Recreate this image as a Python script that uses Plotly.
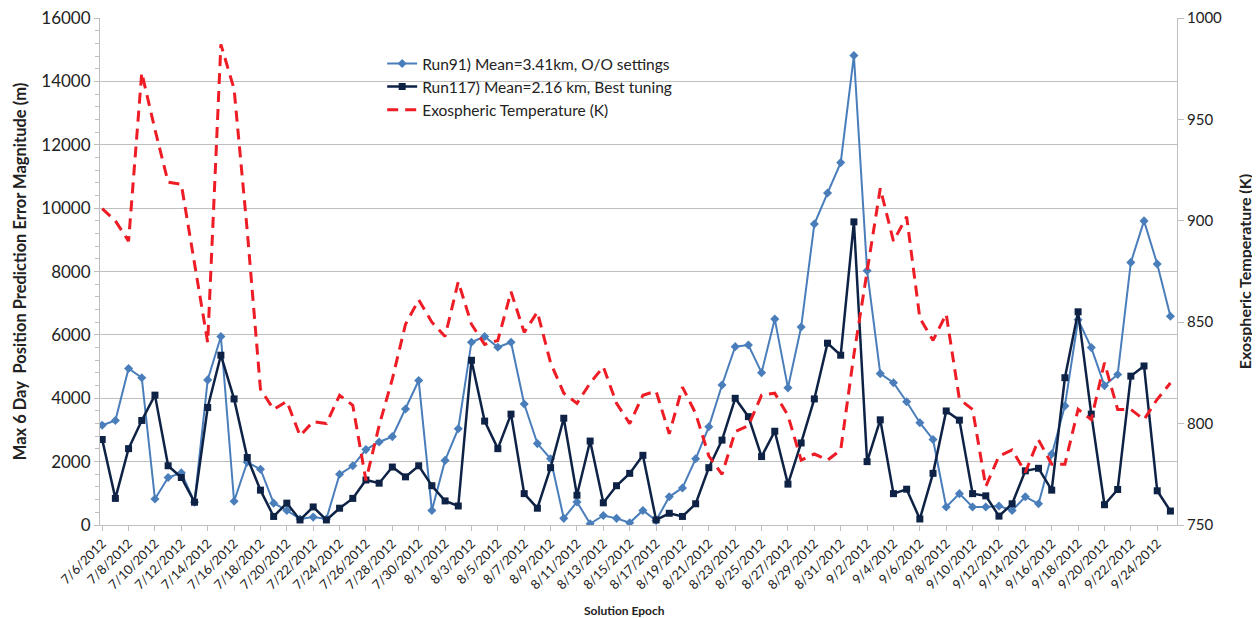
import pandas as pd
import plotly.graph_objects as go

# solution epochs, one per day
dates = pd.date_range("2012-07-06", "2012-09-25", freq="D")

run91 = [3150, 3300, 4940, 4650, 820, 1500, 1650, 720, 4580, 5950,
         750, 1980, 1760, 690, 460, 190, 250, 190, 1600, 1870,
         2380, 2620, 2790, 3660, 4560, 460, 2040, 3040, 5770, 5950,
         5610, 5770, 3820, 2570, 2090, 210, 730, 40, 300, 210,
         70, 460, 140, 890, 1170, 2090, 3100, 4420, 5630, 5680,
         4810, 6500, 4330, 6250, 9500, 10480, 11440, 14820, 8030, 4780,
         4490, 3890, 3230, 2700, 570, 990, 570, 570, 600, 460,
         890, 670, 2240, 3760, 6480, 5600, 4400, 4750, 8290, 9600,
         8240, 6590]

run117 = [2700, 840, 2410, 3300, 4100, 1870, 1500, 720, 3710, 5360,
          3980, 2130, 1100, 270, 690, 160, 570, 160, 530, 840,
          1420, 1320, 1830, 1520, 1870, 1240, 760, 600, 5200, 3280,
          2410, 3500, 990, 530, 1810, 3370, 940, 2650, 700, 1240,
          1630, 2200, 160, 370, 270, 670, 1810, 2680, 4000, 3420,
          2160, 2960, 1290, 2590, 3980, 5740, 5360, 9570, 2000, 3320,
          990, 1130, 190, 1630, 3600, 3310, 990, 920, 280, 670,
          1710, 1790, 1100, 4650, 6730, 3500, 640, 1120, 4700, 5020,
          1080, 440]

exo_temp = [906, 900, 890, 973, 945, 919, 918, 878, 840, 987,
            965, 895, 817, 807, 811, 794, 801, 800, 814, 809,
            772, 799, 822, 849, 861, 850, 843, 870, 849, 839,
            841, 865, 845, 855, 830, 815, 810, 820, 828, 810,
            800, 814, 816, 795, 818, 805, 784, 775, 796, 799,
            814, 815, 804, 782, 785, 782, 787, 834, 875, 916,
            890, 902, 852, 841, 854, 812, 807, 769, 784, 787,
            776, 792, 780, 780, 807, 802, 830, 807, 807, 802,
            812, 820]

fnt = "Lato, 'Open Sans', sans-serif"
grid_col = "#BFBFBF"
txt_col = "#222222"

fig = go.Figure()
fig.add_trace(go.Scatter(x=dates, y=run91, mode="lines+markers",
                         name="Run91) Mean=3.41km, O/O settings",
                         line=dict(color="#4A7EBB", width=2),
                         marker=dict(symbol="diamond", size=7, color="#4A7EBB")))
fig.add_trace(go.Scatter(x=dates, y=run117, mode="lines+markers",
                         name="Run117) Mean=2.16 km, Best tuning",
                         line=dict(color="#0E2245", width=2.5),
                         marker=dict(symbol="square", size=7, color="#0E2245")))
fig.add_trace(go.Scatter(x=dates, y=exo_temp, mode="lines", yaxis="y2",
                         name="Exospheric Temperature (K)",
                         line=dict(color="#EE1C25", width=3, dash="11px,7px")))

fig.update_layout(
    width=1260, height=618,
    margin=dict(l=92, r=91, t=10, b=101),
    paper_bgcolor="white", plot_bgcolor="white",
    font=dict(family=fnt, color=txt_col),
    showlegend=True,
    legend=dict(x=0.262, y=0.943, xanchor="left", yanchor="top",
                bgcolor="rgba(0,0,0,0)", font=dict(size=15.5, color=txt_col),
                tracegroupgap=0, itemwidth=30),
    # white legend box that hides the gridline behind the legend, as in the original
    shapes=[dict(type="rect", xref="paper", yref="paper", layer="between",
                 x0=0.177, x1=0.622, y0=0.84, y1=0.97,
                 fillcolor="white", line=dict(width=0))],
    xaxis=dict(
        range=[pd.Timestamp("2012-07-05 20:00"), pd.Timestamp("2012-09-25 12:00")],
        tick0="2012-07-06", dtick=2 * 86400000, tickformat="%-m/%-d/%Y",
        tickangle=-45, tickfont=dict(size=13, color=txt_col),
        ticks="outside", ticklen=5, tickcolor=grid_col,
        showline=True, linecolor=grid_col, showgrid=False, zeroline=False,
        automargin=False,
    ),
    yaxis=dict(
        range=[0, 16005], dtick=2000, tickformat="d",
        tickfont=dict(size=17, color=txt_col), ticklabeloverflow="allow",
        showgrid=True, gridcolor=grid_col, gridwidth=1,
        showline=True, linecolor=grid_col, zeroline=False,
        ticks="outside", ticklen=5, tickcolor=grid_col,
        minor=dict(dtick=400, ticks="outside", ticklen=4, tickcolor=grid_col, showgrid=False),
        title=dict(text="<b>Max 6 Day  Position Prediction Error Magnitude (m)</b>",
                   font=dict(size=16.5, color=txt_col), standoff=10),
        automargin=False,
    ),
    yaxis2=dict(
        range=[750, 1000], dtick=50, overlaying="y", side="right",
        tickfont=dict(size=15, color=txt_col), ticklabeloverflow="allow",
        showgrid=False, zeroline=False,
        showline=True, linecolor=grid_col, ticks="outside", ticklen=6, tickcolor=grid_col,
        title=dict(text="<b>Exospheric Temperature (K)</b>",
                   font=dict(size=16, color=txt_col), standoff=18),
        automargin=False,
    ),
    annotations=[dict(text="<b>Solution Epoch</b>", xref="paper", yref="paper",
                      x=0.487, y=-0.168, xanchor="center", yanchor="middle",
                      showarrow=False, font=dict(size=12, color=txt_col))],
)

fig.write_html("out.html")
